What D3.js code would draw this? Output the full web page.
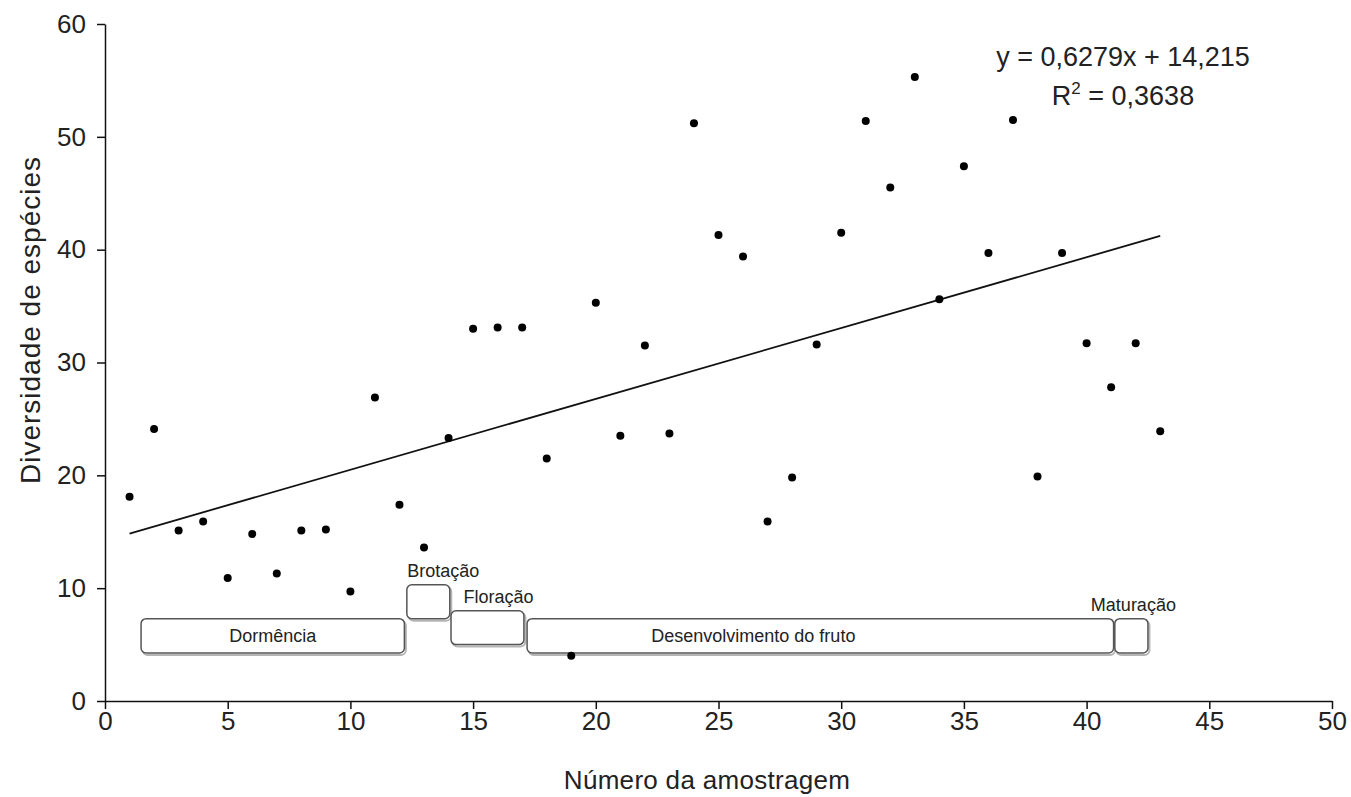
<!DOCTYPE html>
<html>
<head>
<meta charset="utf-8">
<script src="https://cdn.jsdelivr.net/npm/d3@7"></script>
<style>
  body { margin: 0; background: #fff; }
  text { font-family: "Liberation Sans", Arial, sans-serif; fill: #222; }
</style>
</head>
<body>
<div id="chart"></div>
<script>
// sample number and species diversity
var samples = d3.range(1, 44);
var diversity = [18.1, 24.1, 15.1, 15.9, 10.9, 14.8, 11.3, 15.1, 15.2, 9.7,
                 26.9, 17.4, 13.6, 23.3, 33.0, 33.1, 33.1, 21.5, 4.0, 35.3,
                 23.5, 31.5, 23.7, 51.2, 41.3, 39.4, 15.9, 19.8, 31.6, 41.5,
                 51.4, 45.5, 55.3, 35.6, 47.4, 39.7, 51.5, 19.9, 39.7, 31.7,
                 27.8, 31.7, 23.9];
var xTicks = [0, 5, 10, 15, 20, 25, 30, 35, 40, 45, 50];
var yTicks = [0, 10, 20, 30, 40, 50, 60];

// regression
var slope = 0.6279, intercept = 14.215;
var eqLabel = 'y = 0,6279x + 14,215';
var r2Value = '0,3638';

// phenological phases (sample range, diversity band)
var phaseNames = ['Dormência', 'Brotação', 'Floração', 'Desenvolvimento do fruto', 'Maturação'];
var phaseStart = [1.47, 12.3, 14.1, 17.2, 41.15];
var phaseEnd   = [12.2, 14.05, 17.07, 41.1, 42.5];
var phaseLow   = [4.25, 7.3, 5.0, 4.25, 4.25];
var phaseHigh  = [7.3, 10.3, 8.0, 7.3, 7.3];
var labelInside = [true, false, false, true, false];
var labelShift = [0, 15, 11, -67, 2]; // px nudge of labels

var width = 1351, height = 797;
var margin = { top: 24, right: 19, bottom: 96, left: 105 };

var svg = d3.select('#chart')
    .append('svg')
    .attr('width', width)
    .attr('height', height);

var x = d3.scaleLinear().domain([0, 50]).range([margin.left, width - margin.right]);
var y = d3.scaleLinear().domain([0, 60]).range([height - margin.bottom, margin.top]);

// axes
var xAxis = svg.append('g')
    .attr('transform', 'translate(0,' + y(0) + ')')
    .call(d3.axisBottom(x).tickValues(xTicks).tickSize(8).tickPadding(3).tickSizeOuter(0));
var yAxis = svg.append('g')
    .attr('transform', 'translate(' + x(0) + ',0)')
    .call(d3.axisLeft(y).tickValues(yTicks).tickSize(8).tickPadding(11).tickSizeOuter(0));

[xAxis, yAxis].forEach(function (a) {
    a.selectAll('path, line').attr('stroke', '#111').attr('stroke-width', 1.5);
    a.selectAll('text').attr('font-size', '26px').attr('fill', '#222');
});

// axis titles
svg.append('text')
    .attr('x', 707)
    .attr('y', 789)
    .attr('text-anchor', 'middle')
    .attr('font-size', '26px')
    .attr('letter-spacing', '0.3px')
    .text('Número da amostragem');

svg.append('text')
    .attr('transform', 'translate(40,320) rotate(-90)')
    .attr('text-anchor', 'middle')
    .attr('font-size', '28px')
    .attr('letter-spacing', '1px')
    .text('Diversidade de espécies');

// phase boxes
var phases = phaseNames.map(function (n, i) {
    return { name: n, x0: phaseStart[i], x1: phaseEnd[i], lo: phaseLow[i], hi: phaseHigh[i],
             inside: labelInside[i], shift: labelShift[i] };
});

var pg = svg.append('g');
pg.selectAll('rect.shadow')
    .data(phases)
    .enter()
    .append('rect')
    .attr('class', 'shadow')
    .attr('x', function (d) { return x(d.x0) + 1.5; })
    .attr('y', function (d) { return y(d.hi) + 2; })
    .attr('width', function (d) { return x(d.x1) - x(d.x0); })
    .attr('height', function (d) { return y(d.lo) - y(d.hi); })
    .attr('rx', 5)
    .attr('fill', 'none')
    .attr('stroke', '#b5b5b5')
    .attr('stroke-width', 2);

pg.selectAll('rect.box')
    .data(phases)
    .enter()
    .append('rect')
    .attr('class', 'box')
    .attr('x', function (d) { return x(d.x0); })
    .attr('y', function (d) { return y(d.hi); })
    .attr('width', function (d) { return x(d.x1) - x(d.x0); })
    .attr('height', function (d) { return y(d.lo) - y(d.hi); })
    .attr('rx', 5)
    .attr('fill', '#fff')
    .attr('stroke', '#555')
    .attr('stroke-width', 1.5);

pg.selectAll('text')
    .data(phases)
    .enter()
    .append('text')
    .attr('x', function (d) { return (x(d.x0) + x(d.x1)) / 2 + d.shift; })
    .attr('y', function (d) { return d.inside ? (y(d.hi) + y(d.lo)) / 2 + 6 : y(d.hi) - 8; })
    .attr('text-anchor', 'middle')
    .attr('font-size', '18px')
    .text(function (d) { return d.name; });

// regression line
svg.append('line')
    .attr('x1', x(1))
    .attr('y1', y(slope * 1 + intercept))
    .attr('x2', x(43))
    .attr('y2', y(slope * 43 + intercept))
    .attr('stroke', '#111')
    .attr('stroke-width', 1.8);

// points
svg.selectAll('circle')
    .data(samples)
    .enter()
    .append('circle')
    .attr('cx', function (d) { return x(d); })
    .attr('cy', function (d, i) { return y(diversity[i]); })
    .attr('r', 4)
    .attr('fill', '#000');

// equation
svg.append('text')
    .attr('x', 1123)
    .attr('y', 66)
    .attr('text-anchor', 'middle')
    .attr('font-size', '27px')
    .text(eqLabel);

var r2 = svg.append('text')
    .attr('x', 1123)
    .attr('y', 105)
    .attr('text-anchor', 'middle')
    .attr('font-size', '27px');
r2.append('tspan').text('R');
r2.append('tspan').attr('dy', -11).attr('font-size', '17px').text('2');
r2.append('tspan').attr('dy', 11).text(' = ' + r2Value);
</script>
</body>
</html>
